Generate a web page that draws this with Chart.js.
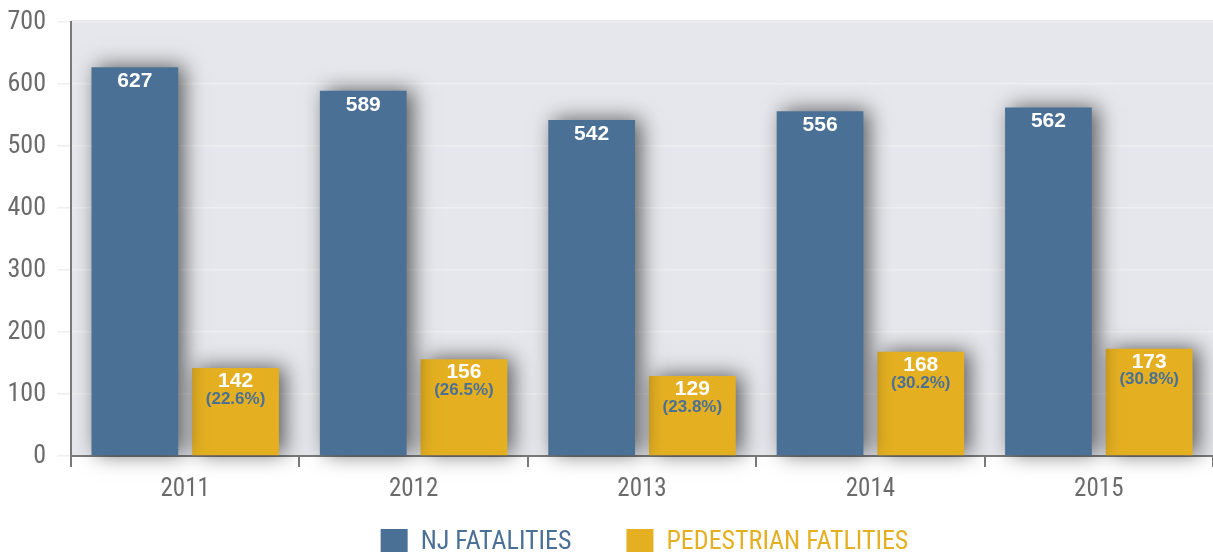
<!DOCTYPE html>
<html>
<head>
<meta charset="utf-8">
<script src="https://cdn.jsdelivr.net/npm/chart.js"></script>
<style>
html, body { margin: 0; padding: 0; overflow: hidden; background: #fff; }
#contenedor { width: 1213px; height: 611px; }
</style>
</head>
<body>
<div id="contenedor"><canvas id="grafico" width="1213" height="611"></canvas></div>
<script>
// datos del grafico
var anios = ['2011', '2012', '2013', '2014', '2015'];
var njFatalities = [627, 589, 542, 556, 562];
var pedestrianFatalities = [142, 156, 129, 168, 173];
var porcentajes = ['(22.6%)', '(26.5%)', '(23.8%)', '(30.2%)', '(30.8%)'];
var nombresSeries = ['NJ FATALITIES', 'PEDESTRIAN FATLITIES'];

var azul = '#4b7095';
var amarillo = '#e4b022';
var fuenteEstrecha = "'Liberation Sans Narrow', 'Roboto Condensed', 'DejaVu Sans Condensed', sans-serif";

// fondo gris del area del grafico
var fondo = {
    id: 'fondo',
    beforeDraw: function (chart) {
        var a = chart.chartArea, ctx = chart.ctx;
        ctx.save();
        ctx.fillStyle = '#e6e7ec';
        ctx.fillRect(a.left, a.top - 2, a.right - a.left, a.bottom - a.top + 2);
        ctx.restore();
    }
};

// sombra de las barras y etiquetas de valores
var sombraYEtiquetas = {
    id: 'sombraYEtiquetas',
    beforeDatasetsDraw: function (chart) {
        var ctx = chart.ctx;
        ctx.save();
        ctx.shadowColor = 'rgba(0,0,0,0.6)';
        ctx.shadowBlur = 20;
        ctx.shadowOffsetX = 6;
        ctx.shadowOffsetY = -1;
    },
    afterDatasetsDraw: function (chart) {
        var ctx = chart.ctx;
        ctx.restore();
        ctx.save();
        ctx.textAlign = 'center';
        ctx.textBaseline = 'middle';
        var barrasNJ = chart.getDatasetMeta(0).data;
        var barrasPed = chart.getDatasetMeta(1).data;
        for (var i = 0; i < anios.length; i++) {
            ctx.fillStyle = '#ffffff';
            ctx.font = 'bold 21px "Liberation Sans", Arial, sans-serif';
            ctx.fillText(njFatalities[i], barrasNJ[i].x, barrasNJ[i].y + 14);
            ctx.fillText(pedestrianFatalities[i], barrasPed[i].x, barrasPed[i].y + 13);
            ctx.fillStyle = azul;
            ctx.font = 'bold 17px "Liberation Sans", Arial, sans-serif';
            ctx.fillText(porcentajes[i], barrasPed[i].x, barrasPed[i].y + 31);
        }
        ctx.restore();
    }
};

// mover la leyenda: centrada bajo el area del grafico y mas arriba
var moverLeyenda = {
    id: 'moverLeyenda',
    afterLayout: function (chart) {
        var ley = chart.legend;
        var alto = ley.bottom - ley.top;
        ley.left += 72;
        ley.top = chart.chartArea.bottom + 18;
        ley.bottom = ley.top + alto;
    }
};

var ctx = document.getElementById('grafico');
var grafico = new Chart(ctx, {
    type: 'bar',
    data: {
        labels: anios,
        datasets: [{
            label: nombresSeries[0],
            data: njFatalities,
            backgroundColor: azul,
            borderWidth: 0,
            clip: false
        }, {
            label: nombresSeries[1],
            data: pedestrianFatalities,
            backgroundColor: amarillo,
            borderWidth: 0,
            clip: false
        }]
    },
    options: {
        responsive: false,
        devicePixelRatio: 1,
        animation: false,
        categoryPercentage: 0.882,
        barPercentage: 0.861,
        layout: { padding: { top: 22, right: -4, left: 0, bottom: 0 } },
        plugins: {
            tooltip: { enabled: false },
            legend: {
                position: 'bottom',
                labels: {
                    boxWidth: 27,
                    boxHeight: 27,
                    padding: 55,
                    font: { family: fuenteEstrecha, size: 26 },
                    generateLabels: function (chart) {
                        return chart.data.datasets.map(function (ds, i) {
                            return {
                                text: ds.label,
                                fillStyle: ds.backgroundColor,
                                strokeStyle: ds.backgroundColor,
                                lineWidth: 0,
                                fontColor: ds.backgroundColor,
                                datasetIndex: i
                            };
                        });
                    }
                }
            }
        },
        scales: {
            x: {
                grid: {
                    offset: true,
                    drawOnChartArea: false,
                    tickLength: 11,
                    color: '#7a7a7a',
                    lineWidth: 2
                },
                border: { color: '#7a7a7a', width: 2 },
                ticks: {
                    color: '#6b6b6b',
                    padding: 8,
                    font: { family: fuenteEstrecha, size: 25 }
                },
                afterFit: function (scale) {
                    scale.height = 63;
                    scale.paddingLeft = 0;
                    scale.paddingRight = 0;
                }
            },
            y: {
                min: 0,
                max: 700,
                ticks: {
                    stepSize: 100,
                    color: '#6b6b6b',
                    padding: 11,
                    font: { family: fuenteEstrecha, size: 26 }
                },
                grid: {
                    color: '#efeff2',
                    lineWidth: 1.5,
                    tickLength: 14
                },
                border: { color: '#7a7a7a', width: 2 },
                afterFit: function (scale) {
                    scale.width = 71;
                    scale.paddingTop = 0;
                    scale.paddingBottom = 0;
                }
            }
        }
    },
    plugins: [fondo, sombraYEtiquetas, moverLeyenda]
});
</script>
</body>
</html>
